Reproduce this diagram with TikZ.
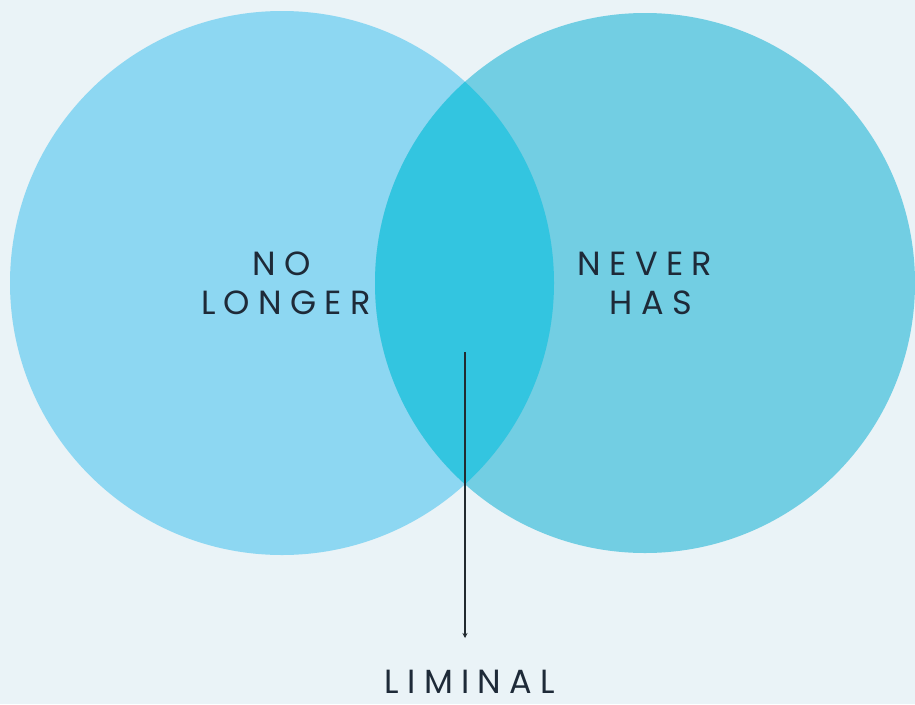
\documentclass[tikz,border=0pt]{standalone}
\usepackage{fontspec}
\setmainfont{Poppins}[LetterSpace=25]
\usetikzlibrary{arrows.meta}
\definecolor{bgc}{HTML}{EAF3F7}
\definecolor{leftc}{HTML}{8DD7F2}
\definecolor{rightc}{HTML}{72CEE3}
\definecolor{midc}{HTML}{33C5E0}
\definecolor{txtc}{HTML}{1E2A38}
\definecolor{arrc}{HTML}{222A30}
\tikzset{
  lbl/.style={font=\fontsize{33.5}{33.5}\selectfont, text=txtc, anchor=base, inner sep=0pt},
  pointer/.style={draw=arrc, line width=1.4pt, -{Stealth[length=5pt,width=5pt]}}
}
\begin{document}
\begin{tikzpicture}[x=1pt,y=-1pt]
\fill[bgc] (0,0) rectangle (915,704);
\useasboundingbox (0,0) rectangle (915,704);
\fill[leftc] (282,283) circle[radius=272];
\fill[rightc] (645,283) circle[radius=270];
\begin{scope}
  \clip (282,283) circle[radius=272];
  \fill[midc] (645,283) circle[radius=270];
\end{scope}
\node[lbl] (tno) at (282,275) {NO};
\node[lbl] (tlonger) at (286,314) {LONGER};
\node[lbl] (tnever) at (645,275) {NEVER};
\node[lbl] (thas) at (651,314) {HAS};
\node[lbl] (tliminal) at (470,693) {LIMINAL};
\coordinate (astart) at (465,352);
\coordinate (aend) at (465,638);
\draw[pointer] (astart) -- (aend);
\end{tikzpicture}
\end{document}
